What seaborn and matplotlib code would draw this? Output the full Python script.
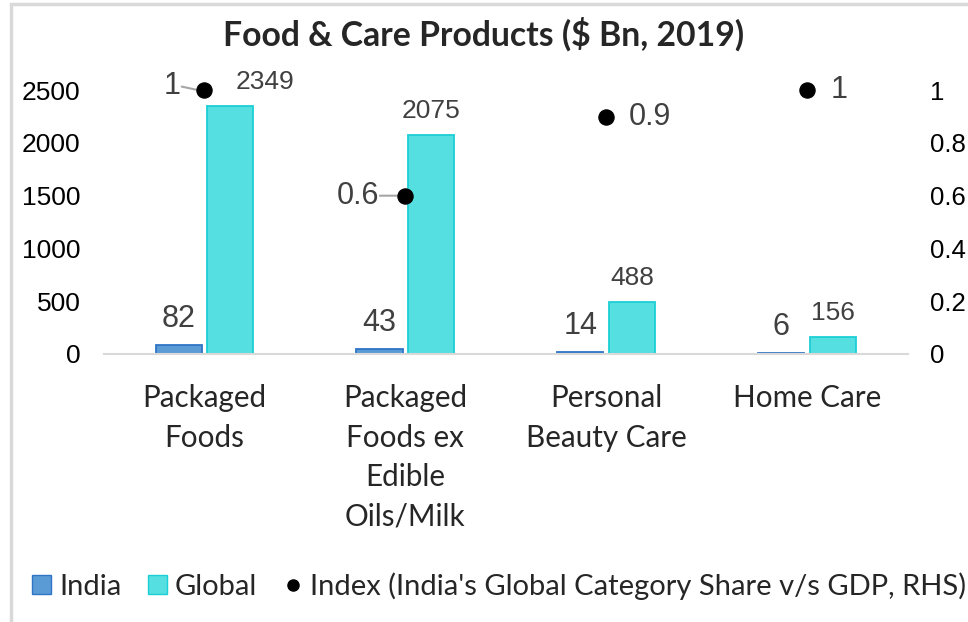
import numpy as np
import pandas as pd
import matplotlib
matplotlib.use("Agg")
import matplotlib.pyplot as plt
from matplotlib.patches import Patch, Rectangle
from matplotlib.lines import Line2D
import seaborn as sns

categories = ["Packaged\nFoods", "Packaged\nFoods ex\nEdible\nOils/Milk",
              "Personal\nBeauty Care", "Home Care"]
india = [82, 43, 14, 6]
global_vals = [2349, 2075, 488, 156]
index_vals = [1.0, 0.6, 0.9, 1.0]
index_labels = ["1", "0.6", "0.9", "1"]

sns.set_style("white")
plt.rcParams["font.family"] = ["Liberation Sans", "DejaVu Sans"]

df = pd.DataFrame({
    "category": categories * 2,
    "series": ["India"] * 4 + ["Global"] * 4,
    "value": india + global_vals,
})

fig = plt.figure(figsize=(9.68, 6.22), dpi=100)
ax = fig.add_axes([0.1075, 0.431, 0.830, 0.424])

c_india, e_india = "#5B9BD5", "#2E75C6"
c_glob, e_glob = "#55DFE0", "#1CCFD6"

sns.barplot(data=df, x="category", y="value", hue="series",
            palette={"India": c_india, "Global": c_glob},
            width=0.515, gap=0.11, ax=ax, legend=False, saturation=1)
for patch in ax.patches:
    fc = matplotlib.colors.to_hex(patch.get_facecolor())
    patch.set_edgecolor(e_india if fc.lower() == c_india.lower() else e_glob)
    patch.set_linewidth(1.3)

ax.set_ylim(0, 2500)
ax.set_xlim(-0.5, 3.5)
ax.set_yticks(range(0, 2501, 500))
ax.set_xlabel("")
ax.set_ylabel("")
for s in ["top", "left", "right"]:
    ax.spines[s].set_visible(False)
ax.spines["bottom"].set_color("#d9d9d9")
ax.spines["bottom"].set_linewidth(1.5)
ax.tick_params(axis="y", length=0, pad=17, labelsize=19, labelcolor="black")
ax.tick_params(axis="x", length=0, pad=22)
ax.set_xticks(range(4))
ax.set_xticklabels(categories, fontsize=21.3, family=["Lato", "DejaVu Sans"],
                   linespacing=1.5, va="top")

# bar value labels
bars_india = ax.containers[0]
bars_glob = ax.containers[1]
for bar, v in zip(bars_india, india):
    ax.annotate(str(v), (bar.get_x() + bar.get_width() / 2, v),
                xytext=(0, 8), textcoords="offset points",
                ha="center", va="bottom", fontsize=22, color="#404040")
glob_dx = [25, 0, 0, 0]
for bar, v, dx in zip(bars_glob, global_vals, glob_dx):
    ax.annotate(str(v), (bar.get_x() + bar.get_width() / 2, v),
                xytext=(dx, 9), textcoords="offset points",
                ha="center", va="bottom", fontsize=19, color="#404040")

# index on right axis
ax2 = ax.twinx()
sns.scatterplot(x=np.arange(4), y=index_vals, ax=ax2, color="black",
                s=120, edgecolor="black", legend=False, zorder=5, clip_on=False)
ax2.set_ylim(0, 1)
ax2.set_xlim(-0.5, 3.5)
ax2.set_yticks([0, 0.2, 0.4, 0.6, 0.8, 1])
ax2.set_yticklabels(["0", "0.2", "0.4", "0.6", "0.8", "1"])
ax2.tick_params(axis="y", length=0, pad=16, labelsize=18.5, labelcolor="black")
for s in ["top", "left", "right", "bottom"]:
    ax2.spines[s].set_visible(False)

offsets = [(-17, 3), (-19, 0), (16, 0), (17, 0)]
for i, (v, lab, off) in enumerate(zip(index_vals, index_labels, offsets)):
    ha = "right" if off[0] < 0 else "left"
    ax2.annotate(lab, (i, v), xytext=off, textcoords="offset points",
                 ha=ha, va="center", fontsize=22, color="#404040",
                 annotation_clip=False)
    if off[0] < 0:
        ax2.annotate("", (i - 0.03, v), xytext=(off[0] + 3, off[1]),
                     textcoords="offset points",
                     arrowprops=dict(arrowstyle="-", color="#a6a6a6", lw=1.5),
                     annotation_clip=False)

fig.suptitle("Food & Care Products ($ Bn, 2019)", x=0.5, y=0.972,
             fontsize=24.3, fontweight="bold", family=["Lato", "DejaVu Sans"])

handles = [
    Patch(facecolor=c_india, edgecolor=e_india, label="India"),
    Patch(facecolor=c_glob, edgecolor=e_glob, label="Global"),
    Line2D([], [], marker="o", color="black", linestyle="", markersize=8,
           label="Index (India's Global Category Share v/s GDP, RHS)"),
]
fig.legend(handles=handles, loc="center left", bbox_to_anchor=(0.033, 0.058),
           ncol=3, frameon=False, handlelength=0.65, handleheight=0.66,
           handletextpad=0.28, columnspacing=0.9, borderaxespad=0, borderpad=0,
           prop={"family": ["Lato", "DejaVu Sans"], "size": 21})

fig.patches.append(Rectangle((0.011, -0.05), 1.2, 1.043, transform=fig.transFigure,
                             fill=False, edgecolor="#d9d9d9", lw=2.5))

fig.savefig("out.png", dpi=100)
